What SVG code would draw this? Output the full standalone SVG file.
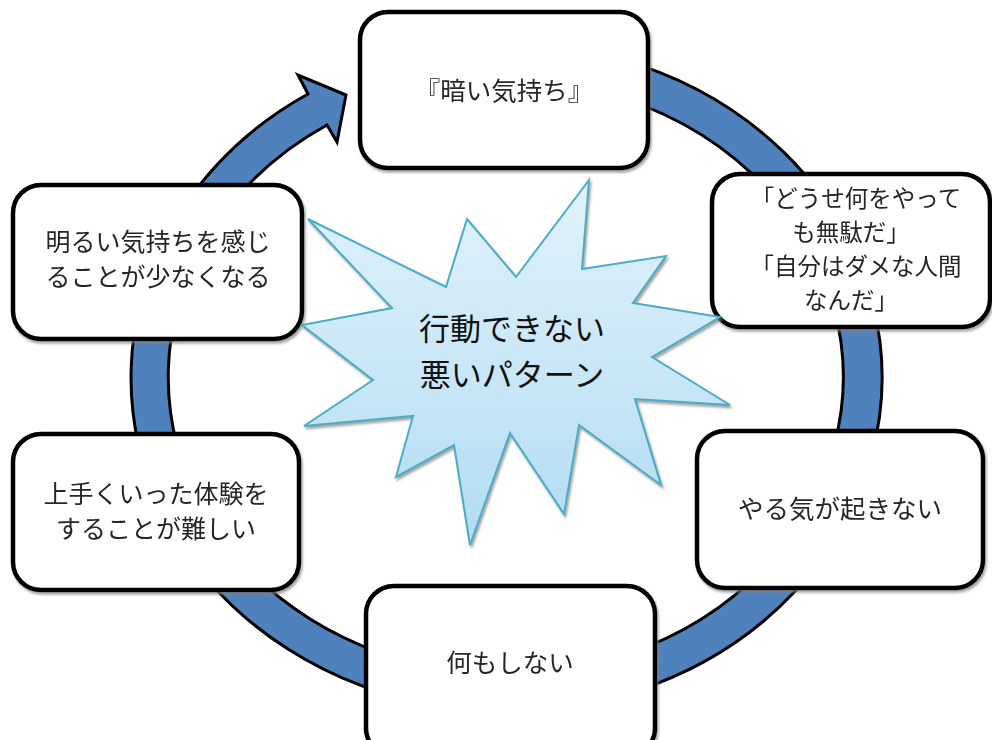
<svg xmlns="http://www.w3.org/2000/svg" width="992" height="740" viewBox="0 0 992 740">
<defs>
<style>
.box{fill:#fff;stroke:#000;stroke-width:4.5}
.lbl{font-family:"Noto Sans CJK JP","Noto Sans",sans-serif;font-size:25.5px;fill:#262626;text-anchor:middle}
.md{font-size:25px}
.sm{font-size:23.5px}
.big{font-family:"Noto Sans CJK JP","Noto Sans",sans-serif;font-size:31px;fill:#111;text-anchor:middle}
</style>
<linearGradient id="burstFill" x1="0" y1="0" x2="0" y2="1">
<stop offset="0" stop-color="#E2F2FB"/>
<stop offset="1" stop-color="#B1DCF2"/>
</linearGradient>
<filter id="shadow" x="-10%" y="-10%" width="120%" height="120%">
<feDropShadow dx="1.5" dy="2.5" stdDeviation="1" flood-color="#7f7f7f" flood-opacity="0.7"/>
</filter>
</defs>
<rect width="992" height="740" fill="#fff"/>
<g id="connectors">
<path d="M308,94 A375.5,334 0 1 0 450,47.3 L450,84 A337.5,297 0 1 1 327,125 L337,142 L346,95 L298,75 Z" fill="#4F81BD" stroke="#000" stroke-width="3" stroke-linejoin="miter"/>
</g>
<g id="node-top" filter="url(#shadow)">
<rect class="box" x="360" y="12" width="288" height="156" rx="28"/>
<text class="lbl" x="504" y="100">『暗い気持ち』</text>
</g>
<g id="node-right-top" filter="url(#shadow)">
<rect class="box" x="712" y="174" width="278" height="153" rx="28"/>
<text class="lbl sm"><tspan x="856" y="207">「どうせ何をやって</tspan><tspan x="851" y="241">も無駄だ」</tspan><tspan x="856" y="275">「自分はダメな人間</tspan><tspan x="851" y="309">なんだ」</tspan></text>
</g>
<g id="node-right-bottom" filter="url(#shadow)">
<rect class="box" x="697" y="431" width="286" height="157" rx="28"/>
<text class="lbl" x="840" y="518">やる気が起きない</text>
</g>
<g id="node-bottom" filter="url(#shadow)">
<rect class="box" x="366" y="586" width="289" height="170" rx="28"/>
<text class="lbl" x="510" y="672">何もしない</text>
</g>
<g id="node-left-bottom" filter="url(#shadow)">
<rect class="box" x="13" y="434" width="286" height="156" rx="28"/>
<text class="lbl md"><tspan x="156" y="503">上手くいった体験を</tspan><tspan x="156" y="538">することが難しい</tspan></text>
</g>
<g id="node-left-top" filter="url(#shadow)">
<rect class="box" x="13" y="185" width="289" height="154" rx="28"/>
<text class="lbl md"><tspan x="158" y="251">明るい気持ちを感じ</tspan><tspan x="158" y="286">ることが少なくなる</tspan></text>
</g>
<g id="node-center">
<polygon points="308,219 446,287 467,219 516,277 589,180 582,269 666,256 633,303 720,317 652,357 730,405 635,399 661,485 579,425 564,514 510,433 470,545 454,445 396,477 413,416 304,426 373,380 302,325 392,308" fill="url(#burstFill)" stroke="#4BACC6" stroke-width="2" stroke-linejoin="miter" filter="url(#shadow)"/>
<text class="big"><tspan x="512" y="340">行動できない</tspan><tspan x="512" y="386">悪いパターン</tspan></text>
</g>
</svg>
